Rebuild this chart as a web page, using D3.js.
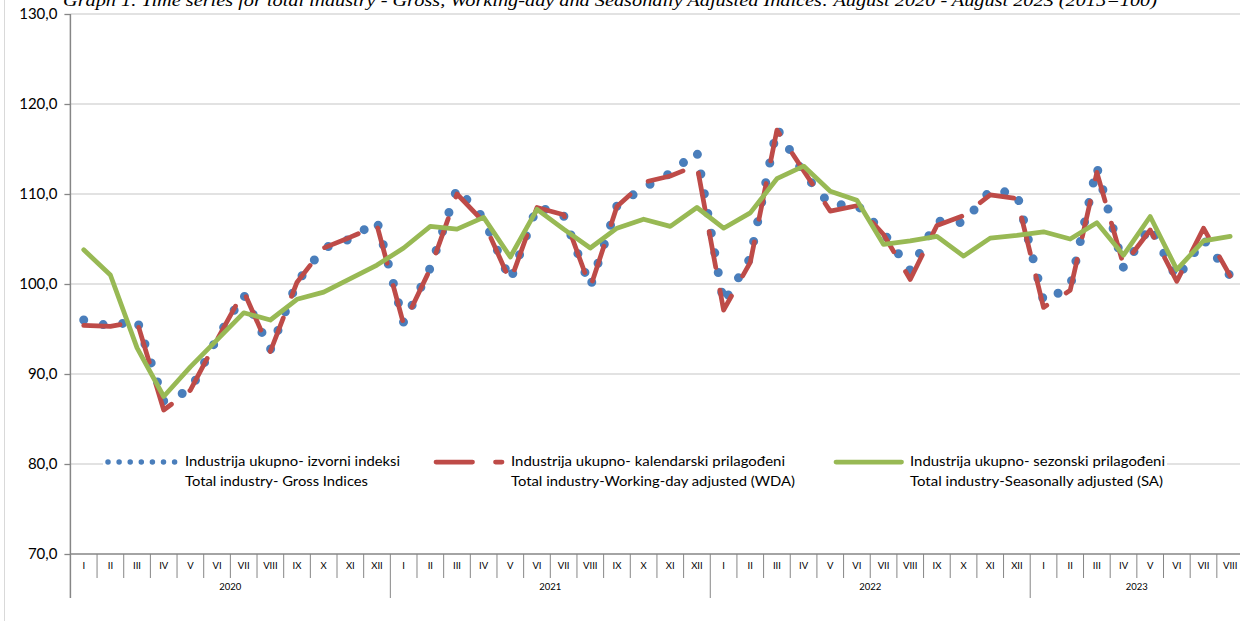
<!DOCTYPE html>
<html><head><meta charset="utf-8">
<script src="https://cdn.jsdelivr.net/npm/d3@7"></script>
<style>body{margin:0;background:#fff}svg{display:block}</style>
</head><body><svg id="c" width="1240" height="621"></svg>
<script>
const titleText = "Graph 1. Time series for total industry - Gross, Working-day and Seasonally Adjusted Indices: August 2020 - August 2023 (2015=100)";
const years = ["2020","2021","2022","2023"];
const monthsPerYear = [12,12,12,8];
const monthLabels = ["I","II","III","IV","V","VI","VII","VIII","IX","X","XI","XII"];
const yTicks = [70,80,90,100,110,120,130];
// Jan 2020 - Aug 2023
const gross = [96.0,95.3,96.0,87.0,88.2,94.0,98.8,92.7,100.2,104.0,105.0,107.0,
               95.7,101.8,110.6,107.3,100.4,108.6,107.6,99.7,108.7,110.7,112.3,114.7,
               97.9,102.9,117.3,112.3,108.8,108.8,105.7,101.5,107.0,106.8,110.4,110.1,
               98.1,99.7,113.0,101.8,106.4,100.6,105.0,100.9];
const wda   = [95.4,95.3,95.8,86.0,88.2,93.8,99.2,92.5,100.2,104.0,105.2,106.5,
               95.5,101.7,110.0,106.9,100.3,108.5,107.7,99.6,108.6,111.3,112.0,113.2,
               97.1,102.4,117.1,112.6,108.1,108.7,105.5,100.5,106.5,107.6,109.9,109.5,
               97.4,99.3,112.4,102.1,106.0,100.3,106.2,100.9];
const sa    = [103.8,101.0,92.9,87.5,90.8,93.8,96.8,96.0,98.3,99.1,100.6,102.1,
               104.0,106.4,106.1,107.4,103.0,108.3,106.1,104.0,106.2,107.2,106.4,108.5,
               106.2,107.9,111.7,113.1,110.3,109.3,104.4,104.8,105.3,103.1,105.1,105.4,
               105.8,105.0,106.8,103.2,107.5,101.6,104.8,105.3];
const legendLine1 = ["Industrija ukupno- izvorni indeksi","Industrija ukupno- kalendarski prilagođeni","Industrija ukupno- sezonski prilagođeni"];
const legendLine2 = ["Total industry- Gross Indices","Total industry-Working-day adjusted (WDA)","Total industry-Seasonally adjusted (SA)"];
const legendW1 = [215,274,255];
const legendW2 = [183,284,253];

const W = 1240, H = 621;
const P = {left:70.4, right:1243.5, top:14, bottom:554};
const svg = d3.select("#c");
const n = gross.length;
const cats = [];
years.forEach((yr,k)=>{ for(let m=0;m<monthsPerYear[k];m++) cats.push({yr, m:monthLabels[m]}); });

const x = d3.scaleBand().domain(d3.range(n)).range([P.left,P.right]).padding(0);
const y = d3.scaleLinear().domain([70,130]).range([P.bottom,P.top]);
const cx = i => x(i) + x.bandwidth()/2;
const axisCol = "#868686";

// chart border
svg.append("line").attr("x1",4.5).attr("x2",4.5).attr("y1",0).attr("y2",H).attr("stroke","#d9d9d9").attr("stroke-width",1);

// title (cut at the top edge, as in the reference)
svg.append("text").attr("x",63).attr("y",5.5).attr("textLength",1094).attr("lengthAdjust","spacingAndGlyphs")
  .style("font-family","'Liberation Serif', serif").style("font-style","italic").style("font-size","17px").attr("fill","#000").text(titleText);

// gridlines
svg.append("g").selectAll("line").data(yTicks.filter(t=>t>70)).join("line")
  .attr("x1",P.left).attr("x2",W).attr("y1",d=>y(d)).attr("y2",d=>y(d))
  .attr("stroke","#d9d9d9").attr("stroke-width",1.3);

// y axis
const ya = svg.append("g").attr("transform",`translate(${P.left},0)`)
  .call(d3.axisLeft(y).tickValues(yTicks).tickSize(6).tickPadding(7).tickFormat(d=>d3.format(".1f")(d).replace(".",",")));
ya.select(".domain").remove();
ya.selectAll(".tick line").attr("stroke",axisCol).attr("stroke-width",1.3);
ya.selectAll(".tick text").style("font-family","Lato, sans-serif").style("font-size","15px").attr("fill","#000");
svg.append("line").attr("x1",P.left).attr("x2",P.left).attr("y1",P.top).attr("y2",598).attr("stroke",axisCol).attr("stroke-width",1.5);

// x axis
svg.append("line").attr("x1",P.left).attr("x2",W).attr("y1",P.bottom).attr("y2",P.bottom).attr("stroke",axisCol).attr("stroke-width",1.5);
const xg = svg.append("g");
xg.selectAll("line.m").data(d3.range(1,n+1)).join("line").attr("class","m")
  .attr("x1",i=>x(i-1)+x.bandwidth()).attr("x2",i=>x(i-1)+x.bandwidth())
  .attr("y1",P.bottom).attr("y2",i=>(i%12===0)?598:578).attr("stroke",axisCol).attr("stroke-width",1);
xg.selectAll("text.m").data(cats).join("text").attr("class","m")
  .attr("x",(d,i)=>cx(i)).attr("y",567).attr("text-anchor","middle").attr("dominant-baseline","middle")
  .style("font-family","Lato, sans-serif").style("font-size","9.5px").attr("fill","#000").text(d=>d.m);
let start = 0;
const yrPos = years.map((yr,k)=>{ const s=start; start+=monthsPerYear[k]; return {yr, s, e:start}; });
xg.selectAll("text.y").data(yrPos).join("text").attr("class","y")
  .attr("x",d=>(x(d.s)+x(d.e-1)+x.bandwidth())/2).attr("y",588).attr("text-anchor","middle").attr("dominant-baseline","middle")
  .style("font-family","Lato, sans-serif").style("font-size","9.5px").attr("fill","#000").text(d=>d.yr);

// series
const line = d3.line().x((d,i)=>cx(i)).y(d=>y(d));
svg.append("path").datum(gross).attr("d",line).attr("fill","none").attr("stroke","#4a7ebb")
  .attr("stroke-width",9).attr("stroke-linecap","round").attr("stroke-dasharray","0 20");
svg.append("path").datum(wda).attr("d",line).attr("fill","none").attr("stroke","#be4b48")
  .attr("stroke-width",4.75).attr("stroke-linecap","round").attr("stroke-linejoin","round").attr("stroke-dasharray","36.5 23");
svg.append("path").datum(sa).attr("d",line).attr("fill","none").attr("stroke","#98b954")
  .attr("stroke-width",4.75).attr("stroke-linecap","round").attr("stroke-linejoin","round");

// legend
const lg = svg.append("g");
lg.append("rect").attr("x",103).attr("y",451).attr("width",1064).attr("height",41).attr("fill","#fff");
lg.append("line").attr("x1",108).attr("x2",175).attr("y1",462).attr("y2",462).attr("stroke","#4a7ebb")
  .attr("stroke-width",5.5).attr("stroke-linecap","round").attr("stroke-dasharray","0 11.1");
lg.append("line").attr("x1",436).attr("x2",502).attr("y1",462).attr("y2",462).attr("stroke","#be4b48")
  .attr("stroke-width",4.75).attr("stroke-linecap","round").attr("stroke-dasharray","36.5 23");
lg.append("line").attr("x1",836).attr("x2",901.5).attr("y1",462).attr("y2",462).attr("stroke","#98b954")
  .attr("stroke-width",4.75).attr("stroke-linecap","round");
const lx = [185,511,910];
lx.forEach((xx,k)=>{
  lg.append("text").attr("x",xx).attr("y",462).attr("dominant-baseline","middle").attr("textLength",legendW1[k]).attr("lengthAdjust","spacingAndGlyphs")
    .style("font-family","Lato, sans-serif").style("font-size","14px").attr("fill","#000").text(legendLine1[k]);
  lg.append("text").attr("x",xx).attr("y",482).attr("dominant-baseline","middle").attr("textLength",legendW2[k]).attr("lengthAdjust","spacingAndGlyphs")
    .style("font-family","Lato, sans-serif").style("font-size","14px").attr("fill","#000").text(legendLine2[k]);
});
</script></body></html>
